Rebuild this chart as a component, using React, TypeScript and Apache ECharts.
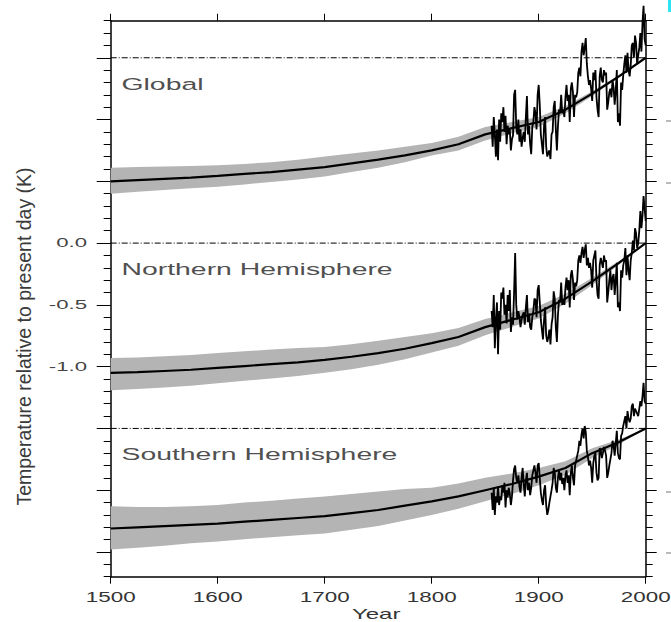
import { useEffect, useRef } from "react";
import * as echarts from "echarts";

// ---------- data ----------
const modelYears = [1500, 1525, 1550, 1575, 1600, 1625, 1650, 1675, 1700, 1725, 1750, 1775, 1800, 1825, 1850, 1875, 1900, 1925, 1950, 1975, 2000];

const globalModel = [-1.0, -0.99, -0.98, -0.97, -0.956, -0.94, -0.925, -0.905, -0.885, -0.855, -0.825, -0.79, -0.75, -0.7, -0.62, -0.57, -0.52, -0.42, -0.29, -0.15, 0.0];
const globalUpper = [-0.89, -0.885, -0.88, -0.875, -0.87, -0.86, -0.845, -0.825, -0.8, -0.775, -0.75, -0.72, -0.69, -0.64, -0.56, -0.52, -0.48, -0.39, -0.27, -0.14, 0.0];
const globalLower = [-1.1, -1.085, -1.07, -1.057, -1.043, -1.025, -1.005, -0.985, -0.96, -0.925, -0.89, -0.845, -0.79, -0.75, -0.67, -0.61, -0.56, -0.45, -0.31, -0.16, 0.0];

const nhModel = [-1.05, -1.045, -1.035, -1.025, -1.01, -0.995, -0.98, -0.965, -0.945, -0.92, -0.89, -0.855, -0.81, -0.76, -0.68, -0.62, -0.56, -0.45, -0.31, -0.16, 0.0];
const nhUpper = [-0.93, -0.925, -0.915, -0.905, -0.89, -0.876, -0.862, -0.85, -0.84, -0.818, -0.79, -0.76, -0.73, -0.688, -0.615, -0.562, -0.51, -0.41, -0.28, -0.145, 0.0];
const nhLower = [-1.19, -1.18, -1.168, -1.155, -1.135, -1.115, -1.095, -1.075, -1.05, -1.02, -0.985, -0.94, -0.885, -0.83, -0.745, -0.678, -0.61, -0.49, -0.34, -0.175, 0.0];

const shModel = [-0.81, -0.8, -0.79, -0.78, -0.77, -0.755, -0.74, -0.725, -0.71, -0.685, -0.66, -0.625, -0.59, -0.55, -0.5, -0.45, -0.39, -0.32, -0.2, -0.11, 0.0];
const shUpper = [-0.63, -0.635, -0.635, -0.63, -0.62, -0.6, -0.585, -0.567, -0.55, -0.53, -0.51, -0.49, -0.48, -0.445, -0.4, -0.365, -0.32, -0.265, -0.16, -0.09, 0.0];
const shLower = [-0.98, -0.965, -0.95, -0.93, -0.915, -0.897, -0.88, -0.864, -0.85, -0.82, -0.79, -0.745, -0.7, -0.65, -0.59, -0.53, -0.46, -0.375, -0.24, -0.13, 0.0];

const obsStartYear = 1856;
const globalObs = [
  -0.55, -0.72, -0.48, -0.62, -0.8, -0.58, -0.83, -0.5, -0.68, -0.45,
  -0.52, -0.4, -0.6, -0.47, -0.7, -0.55, -0.62, -0.58, -0.75, -0.66,
  -0.63, -0.3, -0.26, -0.55, -0.62, -0.5, -0.68, -0.58, -0.72, -0.65,
  -0.6, -0.68, -0.48, -0.31, -0.62, -0.55, -0.7, -0.78, -0.56, -0.52,
  -0.4, -0.45, -0.58, -0.3, -0.22, -0.38, -0.62, -0.7, -0.78, -0.55,
  -0.48, -0.72, -0.8, -0.77, -0.75, -0.82, -0.62, -0.6, -0.4, -0.35,
  -0.58, -0.75, -0.55, -0.42, -0.45, -0.3, -0.45, -0.42, -0.48, -0.32,
  -0.22, -0.35, -0.3, -0.52, -0.25, -0.2, -0.28, -0.48, -0.3, -0.32,
  -0.28, -0.12, -0.08, -0.15, 0.05, 0.12, 0.02, 0.08, 0.16, -0.05,
  -0.15, -0.22, -0.18, -0.25, -0.35, -0.12, -0.18, -0.1, -0.32, -0.42,
  -0.48, -0.15, -0.08, -0.18, -0.2, -0.1, -0.14, -0.12, -0.42, -0.36,
  -0.28, -0.25, -0.32, -0.18, -0.24, -0.38, -0.27, -0.1, -0.52, -0.45,
  -0.55, -0.2, -0.26, -0.14, -0.05, 0.02, -0.12, 0.04, -0.1, -0.15,
  -0.06, 0.1, 0.12, 0.0, 0.18, 0.12, -0.05, 0.02, 0.08, 0.2,
  0.05, 0.28, 0.42, 0.15, 0.1,
];
const nhObs = [
  -0.55, -0.68, -0.42, -0.85, -0.62, -0.48, -0.9, -0.55, -0.7, -0.4,
  -0.45, -0.36, -0.58, -0.5, -0.65, -0.42, -0.55, -0.38, -0.72, -0.6,
  -0.66, -0.4, -0.08, -0.5, -0.62, -0.55, -0.6, -0.68, -0.62, -0.58,
  -0.56, -0.66, -0.52, -0.42, -0.64, -0.57, -0.68, -0.7, -0.6, -0.55,
  -0.45, -0.46, -0.6, -0.38, -0.34, -0.48, -0.62, -0.7, -0.78, -0.62,
  -0.52, -0.75, -0.8, -0.76, -0.7, -0.82, -0.66, -0.6, -0.39, -0.45,
  -0.68, -0.8, -0.58, -0.46, -0.48, -0.32, -0.5, -0.46, -0.5, -0.36,
  -0.28, -0.38, -0.3, -0.52, -0.26, -0.22, -0.3, -0.46, -0.32, -0.35,
  -0.3, -0.14, -0.1, -0.16, -0.08, -0.03, -0.12, -0.06, -0.01, -0.18,
  -0.12, -0.2, -0.16, -0.22, -0.36, -0.14, -0.1, -0.06, -0.3, -0.42,
  -0.45, -0.18, -0.12, -0.16, -0.2, -0.1, -0.15, -0.14, -0.48, -0.4,
  -0.3, -0.22, -0.38, -0.28, -0.25, -0.42, -0.3, -0.16, -0.52, -0.48,
  -0.55, -0.22, -0.28, -0.18, -0.14, -0.04, -0.26, -0.1, -0.22, -0.3,
  -0.14, -0.08, 0.02, -0.06, 0.12, 0.08, -0.04, 0.0, 0.1, 0.26,
  0.12, 0.22, 0.38, 0.28, 0.18,
];
const shObs = [
  -0.52, -0.66, -0.48, -0.7, -0.55, -0.6, -0.47, -0.62, -0.55, -0.58,
  -0.46, -0.52, -0.44, -0.64, -0.5, -0.56, -0.48, -0.53, -0.62, -0.55,
  -0.42, -0.33, -0.3, -0.4, -0.44, -0.38, -0.47, -0.52, -0.4, -0.32,
  -0.45, -0.55, -0.42, -0.36, -0.5, -0.44, -0.54, -0.48, -0.38, -0.34,
  -0.3, -0.36, -0.44, -0.3, -0.28, -0.4, -0.52, -0.58, -0.62, -0.5,
  -0.46, -0.62, -0.7, -0.66, -0.6, -0.55, -0.5, -0.44, -0.32, -0.36,
  -0.48, -0.52, -0.4, -0.34, -0.42, -0.36, -0.45, -0.4, -0.5, -0.38,
  -0.34, -0.44, -0.38, -0.54, -0.36, -0.3, -0.4, -0.46, -0.3, -0.26,
  -0.22, -0.18, -0.1, -0.14, -0.05, 0.0, -0.08, 0.02, -0.03, -0.18,
  -0.23, -0.3, -0.26, -0.32, -0.44, -0.28, -0.22, -0.2, -0.36, -0.42,
  -0.4, -0.16, -0.18, -0.24, -0.2, -0.15, -0.18, -0.22, -0.4, -0.36,
  -0.3, -0.25, -0.2, -0.1, -0.14, -0.22, -0.12, -0.02, -0.2, -0.24,
  -0.25, -0.06, -0.04, 0.02, 0.06, 0.1, 0.0, 0.14, 0.08, 0.05,
  0.08, 0.18, 0.2, 0.1, 0.16, 0.14, 0.12, 0.1, 0.16, 0.22,
  0.18, 0.26, 0.37, 0.22, 0.2,
];

const panelNames = ["Global", "Northern Hemisphere", "Southern Hemisphere"];
const panelOffsets = [1.5, 0, -1.5];
const xTicks = [1500, 1600, 1700, 1800, 1900, 2000];
const yTickLabels = [0.0, -0.5, -1.0];
const yAxisTitle = "Temperature relative to present day (K)";
const xAxisTitle = "Year";

// ---------- layout ----------
const W = 671;
const H = 622;
const G_LEFT = 110.7;
const G_RIGHT = 25.3;
const G_TOP = 20.7;
const G_BOTTOM = 45.3;
const Y_MIN = -2.7;
const Y_MAX = 1.8;
const MAJ_MIN = -2.5;
const MAJ_MAX = 1.5;
const PX_PER_K = (H - G_TOP - G_BOTTOM) / (Y_MAX - Y_MIN);

const BAND = "#b4b4b4";
const TEXT_FONT = '"Liberation Sans", Arial, Helvetica, sans-serif';

export default function App() {
  const ref = useRef<HTMLDivElement>(null);

  useEffect(() => {
    if (!ref.current) return;
    const chart = echarts.init(ref.current, null, { renderer: "svg", width: W, height: H });

    const panels = [
      { model: globalModel, upper: globalUpper, lower: globalLower, obs: globalObs },
      { model: nhModel, upper: nhUpper, lower: nhLower, obs: nhObs },
      { model: shModel, upper: shUpper, lower: shLower, obs: shObs },
    ];

    const series: any[] = [];
    panels.forEach((p, i) => {
      const off = panelOffsets[i];
      // uncertainty band: one polygon per panel, through the axis scales
      series.push({
        type: "custom",
        xAxisIndex: 0,
        yAxisIndex: 0,
        silent: true,
        z: 1,
        data: modelYears.map((y, k) => [y, p.upper[k] + off, p.lower[k] + off]),
        encode: { x: 0, y: [1, 2] },
        renderItem: (params: any, api: any) => {
          if (params.dataIndex !== 0) return null;
          const pts: number[][] = [];
          for (let k = 0; k < modelYears.length; k++) pts.push(api.coord([modelYears[k], p.upper[k] + off]));
          for (let k = modelYears.length - 1; k >= 0; k--) pts.push(api.coord([modelYears[k], p.lower[k] + off]));
          return { type: "polygon", shape: { points: pts }, style: { fill: BAND, stroke: null } };
        },
      });
      series.push({
        type: "line",
        xAxisIndex: 0,
        yAxisIndex: 0,
        symbol: "none",
        silent: true,
        lineStyle: { color: "#000", width: 1, type: [6, 2, 1, 2] },
        data: [
          [xTicks[0], off],
          [xTicks[xTicks.length - 1], off],
        ],
        z: 2,
      });
      series.push({
        type: "line",
        xAxisIndex: 0,
        yAxisIndex: 0,
        symbol: "none",
        silent: true,
        lineStyle: { color: "#000", width: 2.2 },
        data: modelYears.map((y, k) => [y, p.model[k] + off]),
        z: 3,
      });
      series.push({
        type: "line",
        xAxisIndex: 0,
        yAxisIndex: 0,
        symbol: "none",
        silent: true,
        clip: false,
        lineStyle: { color: "#000", width: 1.8 },
        data: p.obs.map((v, k) => [obsStartYear + k, v + off]),
        z: 4,
      });
    });

    const axisLine = { show: true, onZero: false, lineStyle: { color: "#000", width: 1.5 } };
    const noLine = { show: false, onZero: false };
    const tick = (len: number) => ({ show: true, inside: false, length: len, lineStyle: { color: "#000", width: 1 } });

    const option: any = {
      animation: false,
      backgroundColor: "#fff",
      grid: [
        { left: G_LEFT, right: G_RIGHT, top: G_TOP, bottom: G_BOTTOM },
        {
          left: G_LEFT,
          right: G_RIGHT,
          top: G_TOP + (Y_MAX - MAJ_MAX) * PX_PER_K,
          bottom: G_BOTTOM + (MAJ_MIN - Y_MIN) * PX_PER_K,
        },
      ],
      xAxis: [
        {
          gridIndex: 0, type: "value", position: "bottom", min: 1500, max: 2000, interval: 100,
          axisLine, axisTick: tick(7), axisLabel: { show: false }, splitLine: { show: false },
        },
        {
          gridIndex: 0, type: "value", position: "top", min: 1500, max: 2000, interval: 100,
          axisLine, axisTick: tick(7), axisLabel: { show: false }, splitLine: { show: false },
        },
        { gridIndex: 1, type: "value", min: 1500, max: 2000, show: false, axisLine: noLine },
      ],
      yAxis: [
        {
          gridIndex: 0, type: "value", position: "left", min: Y_MIN, max: Y_MAX, interval: 0.1,
          axisLine, axisTick: tick(7), axisLabel: { show: false }, splitLine: { show: false },
        },
        {
          gridIndex: 0, type: "value", position: "right", min: Y_MIN, max: Y_MAX, interval: 0.1,
          axisLine, axisTick: tick(7), axisLabel: { show: false }, splitLine: { show: false },
        },
        {
          gridIndex: 1, type: "value", position: "left", min: MAJ_MIN, max: MAJ_MAX, interval: 0.5,
          axisLine: noLine, axisTick: tick(14), axisLabel: { show: false }, splitLine: { show: false },
        },
        {
          gridIndex: 1, type: "value", position: "right", min: MAJ_MIN, max: MAJ_MAX, interval: 0.5,
          axisLine: noLine, axisTick: tick(11), axisLabel: { show: false }, splitLine: { show: false },
        },
      ],
      series,
    };
    chart.setOption(option);

    const px = (v: number) => chart.convertToPixel({ xAxisIndex: 0 }, v) as number;
    const py = (v: number) => chart.convertToPixel({ yAxisIndex: 0 }, v) as number;

    const txt = (
      text: string, x: number, y: number, size: number, sx: number, align: string, fill: string
    ) => ({
      type: "text",
      x, y,
      scaleX: sx,
      silent: true,
      z: 100,
      style: {
        text,
        font: `${size}px ${TEXT_FONT}`,
        fill,
        align, textAlign: align,
        verticalAlign: "middle", textVerticalAlign: "middle",
      },
    });

    const graphic: any[] = [];
    xTicks.forEach((v) => graphic.push(txt(String(v), px(v), 597, 14, 1.6, "center", "#333")));
    yTickLabels.forEach((v) => graphic.push(txt(v.toFixed(1), 87, py(v), 12, 1.85, "right", "#444")));
    panelNames.forEach((n, i) => graphic.push(txt(n, 121.5, py(panelOffsets[i] - 0.21), 17, 1.67, "left", "#505050")));
    graphic.push(txt(xAxisTitle, px(1750) - 2, 614, 15, 1.6, "center", "#333"));
    graphic.push({
      type: "text", x: 24, y: 336.5, rotation: Math.PI / 2, silent: true, z: 100,
      style: {
        text: yAxisTitle, font: `19.5px ${TEXT_FONT}`, fill: "#3a3a3a",
        align: "center", textAlign: "center", verticalAlign: "middle", textVerticalAlign: "middle",
      },
    });
    // fragments of the neighbouring figure at the right edge
    [121, 183, 492, 553].forEach((y) =>
      graphic.push({ type: "line", silent: true, shape: { x1: 666, y1: y, x2: 671, y2: y }, style: { stroke: "#777", lineWidth: 1 } })
    );
    graphic.push({ type: "rect", silent: true, shape: { x: 668, y: 0, width: 3, height: 12 }, style: { fill: "#2de4f4" } });

    chart.setOption({ graphic });

    return () => chart.dispose();
  }, []);

  return <div ref={ref} style={{ position: "absolute", left: 0, top: 0, width: W, height: H, background: "#fff" }} />;
}
